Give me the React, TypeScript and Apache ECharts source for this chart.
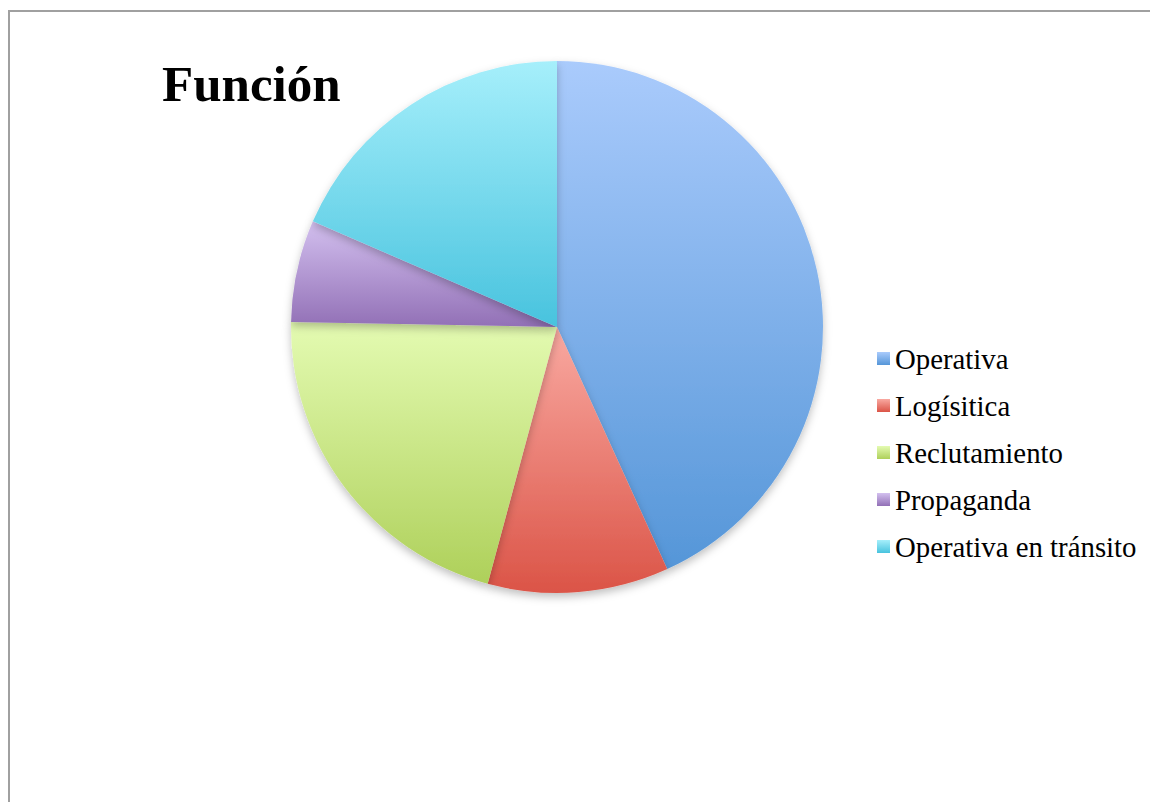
import React, { useEffect, useRef } from "react";
import * as echarts from "echarts";

const categories = ["Operativa", "Logísitica", "Reclutamiento", "Propaganda", "Operativa en tránsito"];
const values = [43.2, 11.0, 21.1, 6.2, 18.5];
const topColors = ["#aacbfc", "#f9a9a1", "#e4fbb2", "#d3c0ef", "#a6effb"];
const bottomColors = ["#5596d8", "#db5447", "#aed05a", "#9270b6", "#48c3de"];

export default function App() {
  const ref = useRef<HTMLDivElement>(null);
  useEffect(() => {
    if (!ref.current) return;
    const chart = echarts.init(ref.current, null, { renderer: "svg" });
    const font = "'Liberation Serif', 'DejaVu Serif', serif";
    chart.setOption({
      animation: false,
      backgroundColor: "#ffffff",
      title: {
        text: "Función",
        left: 157,
        top: 53,
        textStyle: { fontFamily: font, fontSize: 51, fontWeight: "bold", color: "#000" },
      },
      legend: {
        orient: "vertical",
        left: 872,
        top: 339,
        itemWidth: 13,
        itemHeight: 13,
        itemGap: 18,
        icon: "rect",
        textStyle: { fontFamily: font, fontSize: 28.8, lineHeight: 29, color: "#000" },
        data: categories,
      },
      graphic: [
        {
          type: "rect",
          shape: { x: 9, y: 11, width: 1300, height: 1000 },
          style: { fill: "none", stroke: "#a0a0a0", lineWidth: 2 },
          silent: true,
        },
      ],
      series: [
        {
          type: "pie",
          center: [557, 327],
          radius: 266,
          startAngle: 90,
          clockwise: true,
          label: { show: false },
          labelLine: { show: false },
          emphasis: { disabled: true },
          itemStyle: {
            shadowBlur: 8,
            shadowOffsetY: 4,
            shadowColor: "rgba(0,0,0,0.25)",
          },
          data: categories.map((name, i) => ({
            name,
            value: values[i],
            itemStyle: {
              color: new echarts.graphic.LinearGradient(0, 0, 0, 1, [
                { offset: 0, color: topColors[i] },
                { offset: 1, color: bottomColors[i] },
              ]),
            },
          })),
        },
      ],
    });
    return () => chart.dispose();
  }, []);
  return <div ref={ref} style={{ position: "fixed", left: 0, top: 0, width: 1150, height: 802 }} />;
}
